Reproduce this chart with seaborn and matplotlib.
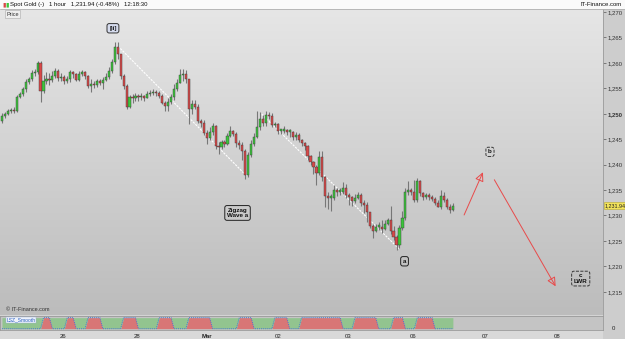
import matplotlib
matplotlib.use("Agg")
import matplotlib.pyplot as plt
from matplotlib.colors import LinearSegmentedColormap
from matplotlib.patches import Rectangle
import numpy as np
import pandas as pd
import seaborn as sns

# hourly spot gold candles (open of each bar = close of the previous bar)
first_open = 1248.5
closes = [1249.5, 1249.9, 1250.5, 1250.7, 1250.5, 1253.2, 1253.8, 1254.8, 1256.2, 1256.8,
          1258.0, 1258.2, 1259.9, 1254.4, 1256.4, 1256.8, 1256.6, 1257.4, 1258.4, 1257.0,
          1257.2, 1256.4, 1256.8, 1258.2, 1257.8, 1256.6, 1257.8, 1258.2, 1257.4, 1255.4,
          1255.8, 1255.6, 1256.4, 1256.0, 1256.6, 1257.2, 1258.4, 1260.1, 1263.1, 1261.7,
          1257.4, 1255.4, 1251.3, 1253.2, 1253.0, 1253.4, 1253.2, 1253.4, 1253.0, 1253.8,
          1254.0, 1254.2, 1254.0, 1253.4, 1252.2, 1251.5, 1252.4, 1253.2, 1254.8, 1256.0,
          1257.6, 1257.8, 1256.8, 1250.9, 1251.9, 1251.3, 1248.5, 1248.1, 1246.3, 1245.3,
          1246.5, 1247.5, 1243.6, 1243.4, 1244.4, 1244.0, 1245.7, 1246.7, 1246.1, 1244.2,
          1243.8, 1242.6, 1238.0, 1241.8, 1244.0, 1245.5, 1247.3, 1248.9, 1248.1, 1249.7,
          1249.5, 1247.7, 1247.9, 1246.7, 1246.7, 1246.9, 1246.5, 1246.5, 1245.5, 1245.9,
          1244.9, 1244.2, 1243.6, 1241.6, 1240.6, 1239.6, 1238.4, 1241.4, 1237.5, 1233.9,
          1233.5, 1233.5, 1235.1, 1234.7, 1234.7, 1235.5, 1234.1, 1233.7, 1232.9, 1233.5,
          1234.1, 1232.5, 1232.1, 1230.6, 1228.0, 1227.0, 1227.8, 1227.8, 1227.4, 1228.4,
          1229.2, 1227.0, 1225.8, 1224.2, 1227.6, 1229.6, 1234.7, 1234.9, 1234.7, 1233.1,
          1236.7, 1234.5, 1233.7, 1233.9, 1233.7, 1233.3, 1232.5, 1231.7, 1233.9, 1233.1,
          1231.7, 1231.0, 1231.94]
highs = [1250.1, 1250.3, 1250.9, 1251.1, 1251.3, 1253.6, 1254.2, 1255.2, 1256.8, 1257.2,
         1258.6, 1258.8, 1260.3, 1260.3, 1257.6, 1258.2, 1258.0, 1258.4, 1259.0, 1258.8,
         1258.0, 1257.6, 1257.4, 1258.6, 1258.4, 1258.0, 1258.4, 1258.6, 1258.4, 1257.6,
         1256.8, 1256.4, 1256.8, 1256.8, 1257.2, 1258.0, 1259.2, 1260.7, 1264.1, 1264.1,
         1261.7, 1257.8, 1255.8, 1253.6, 1253.8, 1254.0, 1253.8, 1254.0, 1253.6, 1254.4,
         1254.6, 1254.8, 1254.6, 1254.4, 1253.8, 1252.6, 1253.0, 1253.8, 1255.8, 1256.8,
         1258.8, 1258.8, 1258.6, 1256.8, 1252.8, 1252.8, 1251.9, 1248.9, 1248.7, 1246.9,
         1247.3, 1248.1, 1247.7, 1244.4, 1244.9, 1244.9, 1246.3, 1247.5, 1246.9, 1246.5,
         1244.9, 1244.4, 1243.0, 1242.4, 1244.9, 1246.3, 1250.5, 1250.3, 1249.7, 1250.5,
         1250.3, 1250.1, 1248.3, 1248.1, 1247.1, 1247.5, 1247.1, 1247.1, 1246.7, 1246.5,
         1246.3, 1245.1, 1244.4, 1243.8, 1241.8, 1240.8, 1240.0, 1242.6, 1242.6, 1237.7,
         1234.7, 1234.3, 1235.9, 1235.5, 1235.5, 1236.5, 1236.1, 1234.5, 1233.9, 1234.3,
         1234.7, 1234.5, 1233.1, 1232.7, 1230.2, 1228.4, 1228.4, 1228.8, 1229.2, 1229.2,
         1229.6, 1231.9, 1228.0, 1226.2, 1228.2, 1230.8, 1235.5, 1236.7, 1235.5, 1236.9,
         1237.3, 1236.9, 1234.7, 1234.5, 1234.5, 1234.1, 1233.7, 1233.1, 1235.1, 1234.7,
         1233.5, 1232.3, 1232.5]
lows = [1248.1, 1249.1, 1249.7, 1250.1, 1250.1, 1250.3, 1253.0, 1253.4, 1254.2, 1255.8,
        1256.4, 1257.4, 1257.8, 1252.4, 1254.0, 1255.8, 1255.6, 1256.2, 1257.0, 1256.4,
        1256.4, 1255.8, 1256.0, 1256.2, 1257.0, 1256.4, 1256.4, 1257.4, 1256.8, 1255.0,
        1254.2, 1255.0, 1255.2, 1255.6, 1254.8, 1256.4, 1256.8, 1258.0, 1259.7, 1260.7,
        1256.8, 1254.8, 1250.9, 1251.1, 1252.2, 1252.6, 1252.6, 1252.8, 1252.6, 1253.0,
        1253.4, 1253.6, 1253.4, 1253.0, 1251.9, 1250.5, 1250.5, 1252.0, 1252.8, 1254.4,
        1256.0, 1256.4, 1256.0, 1247.9, 1249.9, 1250.9, 1248.1, 1247.3, 1245.9, 1244.0,
        1244.9, 1245.9, 1243.0, 1242.0, 1243.0, 1243.4, 1243.8, 1245.5, 1245.7, 1243.4,
        1243.0, 1241.0, 1237.1, 1237.5, 1241.4, 1243.6, 1245.3, 1246.9, 1247.5, 1247.5,
        1248.9, 1247.3, 1247.3, 1246.1, 1246.1, 1246.3, 1245.9, 1245.5, 1244.9, 1244.9,
        1244.4, 1243.6, 1242.8, 1241.0, 1240.0, 1238.2, 1235.9, 1238.0, 1236.7, 1231.7,
        1231.2, 1230.8, 1233.1, 1233.9, 1234.1, 1234.3, 1233.5, 1232.1, 1231.9, 1232.5,
        1233.3, 1231.9, 1230.4, 1228.8, 1227.6, 1225.6, 1226.8, 1227.2, 1226.6, 1227.2,
        1228.2, 1226.4, 1225.2, 1223.3, 1223.7, 1227.2, 1229.2, 1234.1, 1234.1, 1232.7,
        1232.7, 1233.9, 1233.1, 1233.3, 1233.1, 1232.9, 1232.1, 1231.6, 1231.2, 1232.7,
        1231.2, 1230.4, 1230.8]

# LSZ_Smooth indicator state per bar (1 = red / up, 0 = green / down)
lsz_state = [0,0,0,0,0,0,0,0,0,0,0,0,0,0, 1,1,1, 0,0,0,0,0, 1,1,1, 0,0,0,0,
             1,1,1,1,1, 0,0,0,0,0,0,0, 1,1,1,1,1, 0,0,0,0,0,0,0, 1,1,1,1,1,
             0,0,0,0,0, 1,1,1,1,1,1,1,1, 0,0,0,0,0,0,0,0,0, 1,1,1,1,1,
             0,0,0,0,0,0,0, 1,1,1,1,1, 0,0,0,0, 1,1,1,1,1,1,1,1,1,1,1,1,1,1,
             0,0,0,0, 1,1,1,1,1,1,1,1, 0,0,0,0,0, 1,1,1,1, 0,0,0,0,
             1,1,1,1,1,1, 0,0,0,0,0,0,0]

price_ticks = [1215, 1220, 1225, 1230, 1235, 1240, 1245, 1250, 1255, 1260, 1265, 1270]
date_pos = [20.6, 45.5, 69.1, 93.0, 116.6, 138.5, 162.8, 187.1]
date_labels = ['26', '28', 'Mar', '02', '03', '06', '07', '08']
last_price = 1231.94

df = pd.DataFrame({'close': closes, 'high': highs, 'low': lows, 'lsz': lsz_state})
df['bar'] = np.arange(len(df))
df['open'] = [first_open] + closes[:-1]

sns.set_theme(style="white")
plt.rcParams['font.family'] = ['Liberation Sans', 'DejaVu Sans']

W, H = 625, 339
fig = plt.figure(figsize=(W / 100, H / 100), dpi=100)
fig.patch.set_facecolor('#d4d4d4')

xlim = (-0.67, 202.6)
ylim = (1210.44, 1270.59)

# right price strip, top title bar, bottom date strip (behind the axes)
fig.patches.append(Rectangle((603 / W, 0), 22 / W, 1, transform=fig.transFigure,
                             fc='#cdcdcd', ec='none', zorder=-5))
fig.patches.append(Rectangle((0, 1 - 9 / H), 1, 9 / H, transform=fig.transFigure,
                             fc='#fafafa', ec='none', zorder=-4))
fig.patches.append(Rectangle((0, 0), 603 / W, 9 / H, transform=fig.transFigure,
                             fc='#d9d9d9', ec='none', zorder=-4))

ax = fig.add_axes([0, 24 / H, 603 / W, 306 / H])
grad = np.linspace(0, 1, 256).reshape(-1, 1)
cmap = LinearSegmentedColormap.from_list('bg', ['#bcbcbc', '#e6e6e6'])
ax.imshow(grad, extent=[xlim[0], xlim[1], ylim[0], ylim[1]], origin='lower',
          aspect='auto', cmap=cmap, zorder=0)

# candles
up = df['close'] >= df['open']
ax.vlines(df['bar'], df['low'], df['high'], color='#777777', lw=0.8, zorder=2)
body_bottom = np.minimum(df['open'], df['close'])
body_h = np.maximum(np.abs(df['close'] - df['open']), 0.25)
ax.bar(df['bar'], body_h, bottom=body_bottom, width=0.72,
       color=np.where(up, '#3cc43c', '#d84848'), edgecolor='#3a3a3a', linewidth=0.3, zorder=3)

# trend lines drawn on the chart
ax.plot([39.1, 82.6], [1263.3, 1237.7], color='white', lw=0.8, ls=(0, (2, 1)), zorder=1.5)
ax.plot([87.6, 134.1], [1249.9, 1223.3], color='white', lw=0.8, ls=(0, (2, 1)), zorder=1.5)

# projected wave arrows
red = '#e84a4a'
ax.annotate('', xy=(162.5, 1239.0), xytext=(155.4, 1229.6),
            arrowprops=dict(arrowstyle='-|>,head_length=0.45,head_width=0.22', color=red, fc='none', lw=0.7))
ax.annotate('', xy=(187.1, 1215.6), xytext=(165.5, 1237.5),
            arrowprops=dict(arrowstyle='-|>,head_length=0.45,head_width=0.22', color=red, fc='none', lw=0.7))

# wave labels
lbl = dict(fontsize=4.5, fontweight='bold', color='#111111', ha='center', va='center', zorder=5,
           linespacing=1.1)
ax.text(37.4, 1266.8, '[ii]', bbox=dict(boxstyle='round,pad=0.35', fc='#d6dcee', ec='#333333', lw=0.7), **lbl)
ax.text(79.4, 1230.5, 'Zigzag\nWave a', bbox=dict(boxstyle='round,pad=0.35', fc='none', ec='#222222', lw=0.7), **lbl)
ax.text(135.7, 1221.0, 'a', bbox=dict(boxstyle='round,pad=0.35', fc='none', ec='#222222', lw=0.7), **lbl)
ax.text(164.5, 1242.5, 'b', bbox=dict(boxstyle='round,pad=0.35', fc='none', ec='#222222', lw=0.6, ls='--'), **lbl)
ax.text(195.1, 1217.6, 'c\nLWR', bbox=dict(boxstyle='round,pad=0.35', fc='none', ec='#222222', lw=0.6, ls='--'), **lbl)

ax.text(1.5, 1211.0, '© IT-Finance.com', fontsize=4, color='#333333', va='bottom', ha='left')
ax.text(1.5, 1269.6, 'Price', fontsize=4, color='#333333', va='center', ha='left',
        bbox=dict(boxstyle='square,pad=0.2', fc='#eeeeee', ec='#aaaaaa', lw=0.4))

ax.set_xlim(*xlim)
ax.set_ylim(*ylim)
ax.set_xticks([])
ax.yaxis.tick_right()
ax.set_yticks(price_ticks)
ax.set_yticklabels([f'{v:,}' for v in price_ticks], fontsize=4.3, color='#333333')
for t in ax.get_yticklabels():
    if t.get_text() == '1,250':
        t.set_fontweight('bold')
ax.tick_params(axis='y', direction='out', length=2, width=0.5, color='#555555', pad=1.5)
for s in ax.spines.values():
    s.set_visible(False)
ax.spines['right'].set_visible(True)
ax.spines['right'].set_color('#9a9a9a')
ax.spines['right'].set_linewidth(0.6)

# current price tag
ax.text(1.002, last_price, f'{last_price:,.2f}', transform=ax.get_yaxis_transform(),
        fontsize=3.9, color='#222222', va='center', ha='left',
        bbox=dict(boxstyle='square,pad=0.12', fc='#f2e35a', ec='#b8a830', lw=0.4), zorder=6)

# lower indicator panel
ax2 = fig.add_axes([0, 9 / H, 603 / W, 14 / H])
ax2.set_facecolor('#c4c4c4')
ax2.fill_between(df['bar'], 0, df['lsz'], color='#d87676', lw=0)
ax2.fill_between(df['bar'], df['lsz'], 1, color='#92c48f', lw=0)
sns.lineplot(data=df, x='bar', y='lsz', ax=ax2, color='#4a78d0', lw=0.7, ls=(0, (1, 1)))
ax2.set_xlim(*xlim)
ax2.set_ylim(-0.12, 1.15)
ax2.set_yticks([])
ax2.set_xlabel('')
ax2.set_ylabel('')
ax2.set_xticks(date_pos)
ax2.set_xticklabels(date_labels, fontsize=4.3, color='#222222')
for t in ax2.get_xticklabels():
    if t.get_text() == 'Mar':
        t.set_fontweight('bold')
ax2.tick_params(axis='x', direction='out', length=2, width=0.5, color='#777777', pad=1)
for s in ax2.spines.values():
    s.set_color('#9a9a9a')
    s.set_linewidth(0.6)
ax2.text(1.5, 1.02, 'LSZ_Smooth', fontsize=3.6, color='#2a5fc0', va='top', ha='left',
         bbox=dict(boxstyle='square,pad=0.15', fc='#eef2fa', ec='#9ab0d8', lw=0.3))
ax2.text(1.015, 0.1, '0', transform=ax2.transAxes, fontsize=4.3, color='#222222', va='center', ha='left')

# title bar
fig.text(10 / W, 1 - 4.5 / H, 'Spot Gold (-)   1 hour   1,231.94 (-0.48%)   12:18:30',
         fontsize=4.3, color='#111111', va='center', ha='left')
fig.text(2 / W, 1 - 4.5 / H, '▮', fontsize=4.5, color='#d84848', va='center', ha='left')
fig.text(5 / W, 1 - 4.5 / H, '▮', fontsize=4.5, color='#3cc43c', va='center', ha='left')
fig.text(622 / W, 1 - 4.5 / H, 'IT-Finance.com', fontsize=4.3, color='#111111', va='center', ha='right')
fig.add_artist(plt.Line2D([0, 1], [1 - 9 / H, 1 - 9 / H], transform=fig.transFigure, color='#b0b0b0', lw=0.6))

fig.savefig('out.png', dpi=100)
